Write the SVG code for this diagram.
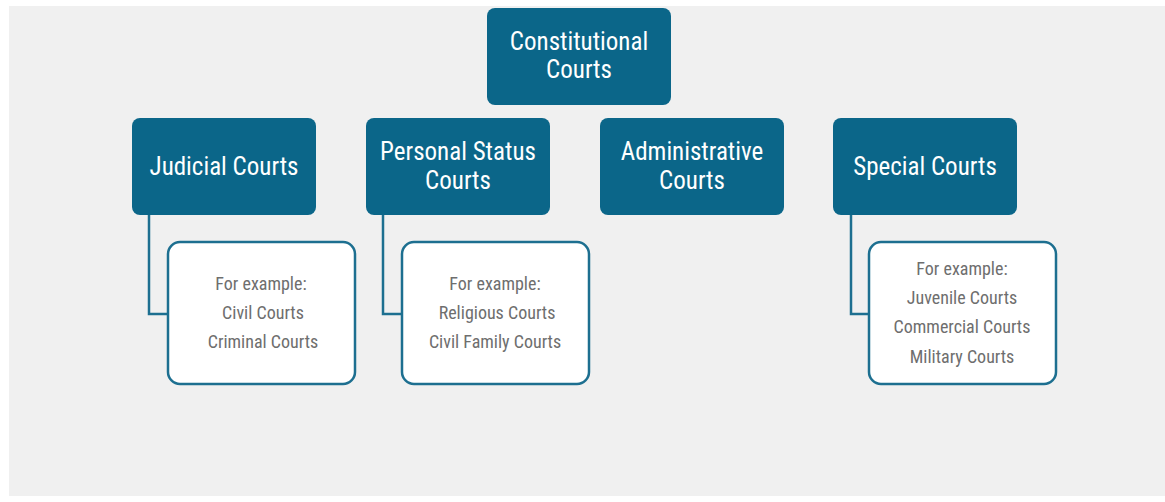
<svg xmlns="http://www.w3.org/2000/svg" width="1165" height="502" viewBox="0 0 1165 502">
  <style>
    .main { fill: #0b6689; }
    .ex { fill: #ffffff; stroke: #1d6f90; stroke-width: 2.5; }
    .conn { fill: none; stroke: #1d6f90; stroke-width: 2.5; }
    .t { font-family: "Liberation Sans Narrow", "Roboto Condensed", "DejaVu Sans Condensed", "Liberation Sans", sans-serif; font-size: 25px; fill: #ffffff; text-anchor: middle; }
    .e { font-family: "Liberation Sans Narrow", "Roboto Condensed", "DejaVu Sans Condensed", "Liberation Sans", sans-serif; font-size: 18px; fill: #6e6e6e; text-anchor: middle; }
  </style>
  <rect x="0" y="0" width="1165" height="502" fill="#ffffff"/>
  <rect x="9" y="6" width="1156" height="490" fill="#f0f0f0"/>

  <g id="connectors">
    <polyline class="conn" points="149,215 149,314 167,314"/>
    <polyline class="conn" points="383,215 383,314 401,314"/>
    <polyline class="conn" points="851,215 851,314 869,314"/>
  </g>

  <g id="constitutional">
    <rect class="main" x="487" y="8" width="184" height="97" rx="8"/>
    <text class="t" x="579" y="50">Constitutional</text>
    <text class="t" x="579" y="78">Courts</text>
  </g>
  <g id="judicial">
    <rect class="main" x="132" y="118" width="184" height="97" rx="8"/>
    <text class="t" x="224" y="175">Judicial Courts</text>
  </g>
  <g id="personal">
    <rect class="main" x="366" y="118" width="184" height="97" rx="8"/>
    <text class="t" x="458" y="160">Personal Status</text>
    <text class="t" x="458" y="189">Courts</text>
  </g>
  <g id="administrative">
    <rect class="main" x="600" y="118" width="184" height="97" rx="8"/>
    <text class="t" x="692" y="160">Administrative</text>
    <text class="t" x="692" y="189">Courts</text>
  </g>
  <g id="special">
    <rect class="main" x="833" y="118" width="184" height="97" rx="8"/>
    <text class="t" x="925" y="175">Special Courts</text>
  </g>

  <g id="judicial-examples">
    <rect class="ex" x="168" y="242" width="187" height="142" rx="12"/>
    <text class="e" x="261" y="290">For example:</text>
    <text class="e" x="263" y="319">Civil Courts</text>
    <text class="e" x="263" y="348">Criminal Courts</text>
  </g>
  <g id="personal-examples">
    <rect class="ex" x="402" y="242" width="187" height="142" rx="12"/>
    <text class="e" x="495" y="290">For example:</text>
    <text class="e" x="497" y="319">Religious Courts</text>
    <text class="e" x="495" y="348">Civil Family Courts</text>
  </g>
  <g id="special-examples">
    <rect class="ex" x="869" y="242" width="187" height="142" rx="12"/>
    <text class="e" x="962" y="275">For example:</text>
    <text class="e" x="962" y="304">Juvenile Courts</text>
    <text class="e" x="962" y="333">Commercial Courts</text>
    <text class="e" x="962" y="363">Military Courts</text>
  </g>
</svg>
